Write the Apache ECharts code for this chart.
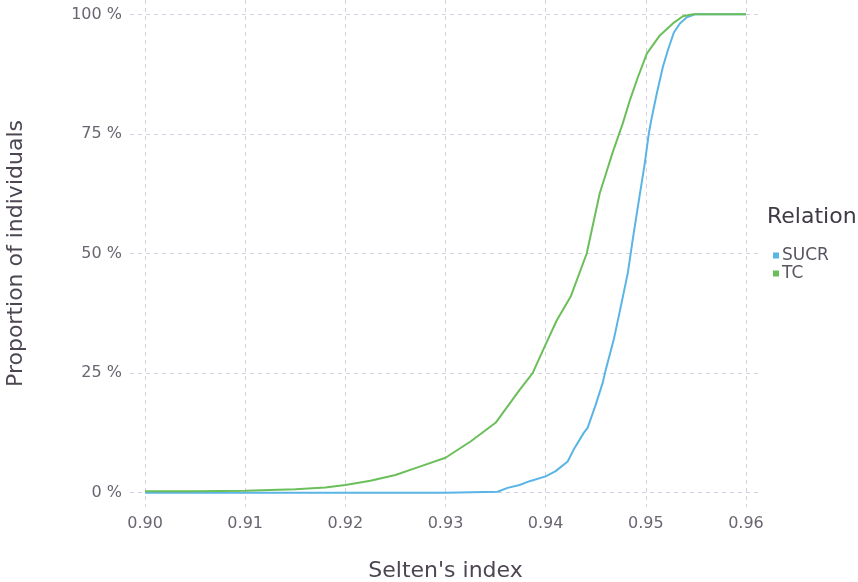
<!DOCTYPE html>
<html>
<head>
<meta charset="utf-8">
<script src="https://cdn.jsdelivr.net/npm/echarts@6/dist/echarts.min.js"></script>
<style>
html,body{margin:0;padding:0;background:#fff;}
#chart{width:858px;height:582px;}
</style>
</head>
<body>
<div id="chart"></div>
<script>
// Selten's index (x) and cumulative proportion of individuals (y)
const sucrX = [0.900, 0.930, 0.9352, 0.9362, 0.9374, 0.9384, 0.9400, 0.9410, 0.9422, 0.9428, 0.9438, 0.9442, 0.9450, 0.9457, 0.9460, 0.9468, 0.9475, 0.9482, 0.9487, 0.9492, 0.9499, 0.9503, 0.9506, 0.9511, 0.9517, 0.9522, 0.9528, 0.9534, 0.9541, 0.9549, 0.960];
const sucrY = [0.000, 0.000, 0.002, 0.010, 0.016, 0.024, 0.034, 0.045, 0.065, 0.090, 0.125, 0.136, 0.184, 0.230, 0.257, 0.320, 0.389, 0.459, 0.530, 0.597, 0.689, 0.751, 0.785, 0.835, 0.890, 0.925, 0.962, 0.981, 0.994, 1.000, 1.000];
const tcX = [0.900, 0.905, 0.910, 0.915, 0.918, 0.920, 0.9225, 0.925, 0.9275, 0.930, 0.9325, 0.935, 0.9374, 0.9387, 0.940, 0.9411, 0.9425, 0.9441, 0.9454, 0.9467, 0.9477, 0.9484, 0.9492, 0.9501, 0.9514, 0.9527, 0.9537, 0.9547, 0.960];
const tcY = [0.003, 0.003, 0.004, 0.007, 0.011, 0.016, 0.025, 0.037, 0.055, 0.073, 0.107, 0.146, 0.215, 0.250, 0.310, 0.360, 0.410, 0.500, 0.626, 0.712, 0.772, 0.820, 0.868, 0.918, 0.956, 0.981, 0.996, 1.000, 1.000];
const xTicks = [0.90, 0.91, 0.92, 0.93, 0.94, 0.95, 0.96];
const yTicks = [0, 0.25, 0.5, 0.75, 1];
const seriesNames = ['SUCR', 'TC'];

const FONT = '"DejaVu Sans", Verdana, sans-serif';
const zip = (xs, ys) => xs.map((x, i) => [x, ys[i]]);

const chart = echarts.init(document.getElementById('chart'), null, {renderer: 'canvas'});
chart.setOption({
  animation: false,
  backgroundColor: '#ffffff',
  textStyle: {fontFamily: FONT},
  color: ['#5ab4e6', '#6bbf5a'],
  title: {
    text: 'Relation',
    left: 762, top: 201,
    textStyle: {fontFamily: FONT, fontSize: 22, fontWeight: 'normal', color: '#3f3a45'}
  },
  legend: {
    data: seriesNames,
    orient: 'vertical',
    left: 768, top: 242,
    icon: 'rect',
    itemWidth: 6, itemHeight: 6,
    itemGap: 1,
    textStyle: {fontFamily: FONT, fontSize: 17, color: '#5a5560', padding: [0,0,0,-2]}
  },
  grid: {left: 130, right: 97, top: 0, bottom: 75, containLabel: false, outerBoundsMode: 'none'},
  xAxis: {
    type: 'value',
    min: 0.8985, max: 0.9615,
    name: "Selten's index",
    nameLocation: 'middle',
    nameGap: 53,
    nameTextStyle: {fontFamily: FONT, fontSize: 22, color: '#4d4652'},
    axisLine: {show: false},
    axisTick: {show: false, customValues: xTicks},
    axisLabel: {customValues: xTicks, formatter: v => v.toFixed(2), fontFamily: FONT, fontSize: 16, color: '#6b6570', margin: 9},
    splitLine: {show: true, lineStyle: {color: '#d0d0e0', type: [4, 4], width: 1}}
  },
  yAxis: {
    type: 'value',
    min: -0.03, max: 1.03,
    name: 'Proportion of individuals',
    nameLocation: 'middle',
    nameGap: 103,
    nameTextStyle: {fontFamily: FONT, fontSize: 22, color: '#4d4652'},
    axisLine: {show: false},
    axisTick: {show: false, customValues: yTicks},
    axisLabel: {customValues: yTicks, formatter: v => Math.round(v * 100) + ' %', fontFamily: FONT, fontSize: 16, color: '#6b6570', margin: 8},
    splitLine: {show: true, lineStyle: {color: '#d0d0e0', type: [4, 4], width: 1}}
  },
  series: [
    {name: seriesNames[0], type: 'line', data: zip(sucrX, sucrY), showSymbol: false, symbol: 'none', lineStyle: {width: 2}, z: 2},
    {name: seriesNames[1], type: 'line', data: zip(tcX, tcY), showSymbol: false, symbol: 'none', lineStyle: {width: 2}, z: 3}
  ]
});
</script>
</body>
</html>
